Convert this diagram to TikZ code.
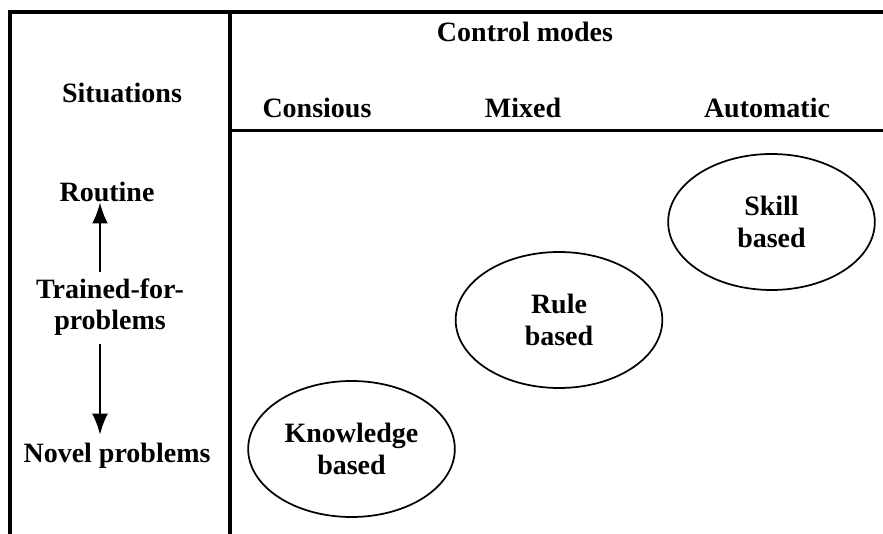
\documentclass[tikz,border=0pt]{standalone}
\usepackage{fontspec}
\setmainfont{Liberation Serif}
\usetikzlibrary{arrows.meta,shapes.geometric}
\tikzset{
    label/.style={font=\fontsize{21}{23.5}\selectfont\bfseries, align=center, inner sep=0pt},
    mode/.style={label, draw, ellipse, line width=1.3pt, minimum width=155pt, minimum height=102pt},
    rule/.style={line width=3pt},
    updown/.style={line width=2.2pt, -{Latex[length=16pt,width=12pt]}}
}
\begin{document}
\begin{tikzpicture}[x=0.75pt,y=-0.75pt]
            \useasboundingbox (0,0) rectangle (883,534);
            % frame
            \draw[rule, line join=miter] (10,534) -- (10,12) -- (883,12);
            \draw[rule] (229.5,12) -- (229.5,534);
            \draw[line width=2.25pt] (229.5,130.5) -- (883,130.5);
            % headings
            \node[label] (situations) at (122,93) {Situations};
            \node[label] (control) at (525,32) {Control modes};
            \node[label] (consious) at (317,108) {Consious};
            \node[label] (mixed) at (523,108) {Mixed};
            \node[label] (automatic) at (767,108) {Automatic};
            % situations
            \node[label] (routine) at (107,192) {Routine};
            \node[label] (trained) at (110,307) {Trained-for-\\problems};
            \node[label] (novel) at (117,456) {Novel problems};
            \coordinate (ax) at (100,0);
            \draw[updown, shorten <=5pt, shorten >=0pt] (trained.north -| ax) -- (routine.south -| ax);
            \draw[updown, shorten <=6pt, shorten >=6pt] (trained.south -| ax) -- (novel.north -| ax);
            % control modes
            \node[mode] (knowledge) at (351.5,449) {Knowledge\\based};
            \node[mode] (rule) at (559,320) {Rule\\based};
            \node[mode] (skill) at (771.5,222) {Skill\\based};
\end{tikzpicture}
\end{document}
